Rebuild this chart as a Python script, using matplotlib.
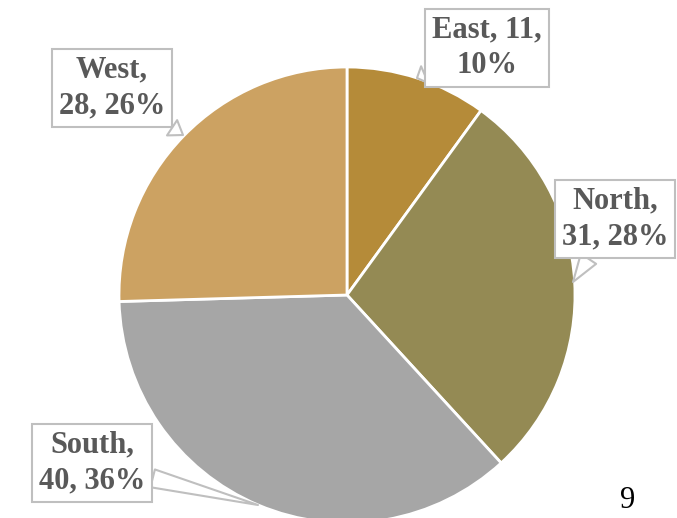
import matplotlib
matplotlib.use("Agg")
import matplotlib.pyplot as plt

regions = ["East", "North", "South", "West"]
values = [11, 31, 40, 28]
percents = [10, 28, 36, 26]
colors = ["#B58B39", "#948A54", "#A6A6A6", "#CCA262"]
labels = [f"{r},\n{v}, {p}%" for r, v, p in zip(regions, values, percents)]
labels[0] = f"East, 11,\n10%"

# label box centres and pointer tips, in pixels from top-left
box_pos = [(487, 48), (615, 219), (92, 463), (112, 88)]
tips = [(417, 78), (573, 282), (258, 505), (183, 135)]

W, H = 677, 518
fig = plt.figure(figsize=(W / 100, H / 100), dpi=100)
ax = fig.add_axes([0, 0, 1, 1])
ax.set_xlim(0, W)
ax.set_ylim(0, H)
ax.set_aspect("equal")
ax.axis("off")

ax.pie(values, colors=colors, startangle=90, counterclock=False,
       center=(347, H - 295), radius=228,
       wedgeprops=dict(edgecolor="white", linewidth=2))
ax.set_xlim(0, W)
ax.set_ylim(0, H)

for lab, (bx, by), (tx, ty) in zip(labels, box_pos, tips):
    ax.annotate(lab, xy=(tx, H - ty), xytext=(bx, H - by),
                ha="center", va="center", fontsize=22, fontweight="bold",
                family="Liberation Serif", color="#595959", linespacing=1.3,
                bbox=dict(boxstyle="square,pad=0.22", fc="white", ec="#BFBFBF", lw=1.5),
                arrowprops=dict(arrowstyle="wedge,tail_width=0.6", fc="white",
                                ec="#BFBFBF", lw=1.5, shrinkA=0, shrinkB=0),
                zorder=5)

ax.text(628, H - 500, "9", fontsize=22, family="Liberation Serif", ha="center", va="center")

fig.savefig("out.png", dpi=100)
